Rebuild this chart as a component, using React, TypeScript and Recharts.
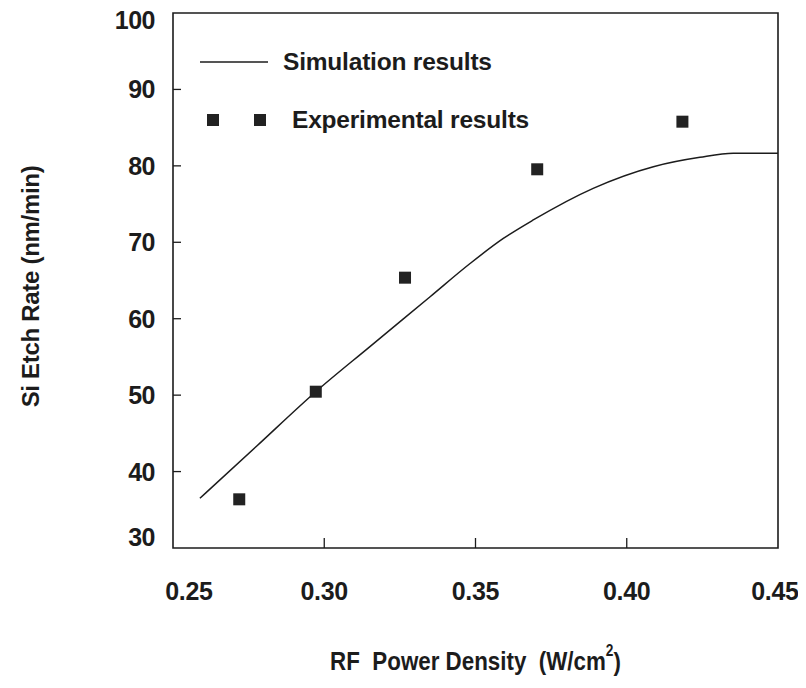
import {
  ComposedChart,
  Legend,
  Line,
  ReferenceArea,
  Scatter,
  XAxis,
  YAxis,
} from 'recharts';

// simulation curve
const simX = [0.2589, 0.2777, 0.2972, 0.3151, 0.335, 0.3482, 0.3592, 0.3691, 0.3889, 0.4088, 0.4242, 0.4352, 0.45];
const simY = [36.5, 43.35, 50.45, 56.35, 62.88, 67.22, 70.5, 72.92, 77.06, 79.89, 81.12, 81.64, 81.64];

// experimental points
const expX = [0.2719, 0.2972, 0.3267, 0.3704, 0.4184];
const expY = [36.37, 50.45, 65.37, 79.55, 85.78];

const xTicks = [0.25, 0.3, 0.35, 0.4, 0.45];
const xTickLabels = ['0.25', '0.30', '0.35', '0.40', '0.45'];
const yTicks = [30, 40, 50, 60, 70, 80, 90, 100];

const simData = simX.map((x, i) => ({ x, y: simY[i] }));
const expData = expX.map((x, i) => ({ x, y: expY[i] }));

const FONT = '"Liberation Sans", Arial, sans-serif';
const INK = '#1c1c1c';

function XTick({ x, y, index }: any) {
  const inner = index > 0 && index < xTicks.length - 1;
  const first = index === 0;
  const last = index === xTicks.length - 1;
  return (
    <g>
      {inner && <line x1={x} x2={x} y1={y - 43} y2={y - 53} stroke={INK} strokeWidth={1.3} />}
      <text
        x={first ? x + 16 : last ? x - 3 : x}
        y={y}
        textAnchor="middle"
        dominantBaseline="central"
        fontFamily={FONT}
        fontWeight="bold"
        fontSize={25}
        letterSpacing={-0.3}
        fill={INK}
      >
        {xTickLabels[index]}
      </text>
    </g>
  );
}

function YTick({ x, y, payload }: any) {
  const v = payload.value;
  const inner = v > 30 && v < 100;
  const dy = v === 100 ? 7 : v === 30 ? -11 : 0;
  return (
    <g>
      {inner && <line x1={x + 18} x2={x + 26} y1={y} y2={y} stroke={INK} strokeWidth={1.3} />}
      <text
        x={x}
        y={y + dy}
        textAnchor="end"
        dominantBaseline="central"
        fontFamily={FONT}
        fontWeight="bold"
        fontSize={25}
        letterSpacing={-0.5}
        fill={INK}
      >
        {v}
      </text>
    </g>
  );
}

function XTitle({ viewBox }: any) {
  const cx = viewBox.x + viewBox.width / 2;
  const cy = viewBox.y + 113;
  return (
    <g transform={`translate(${cx} ${cy}) scale(0.86 1)`}>
      <text
        x={0}
        y={0}
        textAnchor="middle"
        dominantBaseline="central"
        fontFamily={FONT}
        fontWeight="bold"
        fontSize={26}
        fill={INK}
        style={{ whiteSpace: 'pre' }}
      >
        {'RF  Power Density  (W/cm'}
        <tspan dy={-11} fontSize={16}>2</tspan>
        <tspan dy={11}>)</tspan>
      </text>
    </g>
  );
}

function YTitle({ viewBox }: any) {
  const cy = viewBox.y + viewBox.height / 2 + 6;
  return (
    <text
      x={22}
      y={cy}
      transform={`rotate(-90 22 ${cy})`}
      textAnchor="middle"
      dominantBaseline="central"
      fontFamily={FONT}
      fontWeight="bold"
      fontSize={24}
      letterSpacing={-0.3}
      fill={INK}
    >
      Si Etch Rate (nm/min)
    </text>
  );
}

function Square({ cx, cy }: any) {
  return <rect x={cx - 6} y={cy - 6} width={12} height={12} fill="#222" />;
}

function LegendBox() {
  const text = {
    fontFamily: FONT,
    fontWeight: 'bold' as const,
    fontSize: 24.5,
    letterSpacing: -0.2,
    color: INK,
    lineHeight: '24px',
    whiteSpace: 'nowrap' as const,
  };
  return (
    <div style={{ display: 'flex', flexDirection: 'column', gap: 34 }}>
      <div style={{ display: 'flex', alignItems: 'center' }}>
        <svg width={83} height={24}>
          <line x1={0} x2={68} y1={12} y2={12} stroke={INK} strokeWidth={1.4} />
        </svg>
        <span style={text}>Simulation results</span>
      </div>
      <div style={{ display: 'flex', alignItems: 'center' }}>
        <svg width={92} height={24}>
          <rect x={7} y={6} width={12} height={12} fill="#222" />
          <rect x={54} y={6} width={12} height={12} fill="#222" />
        </svg>
        <span style={text}>Experimental results</span>
      </div>
    </div>
  );
}

export default function App() {
  return (
    <ComposedChart
      width={798}
      height={672}
      margin={{ top: 5, right: 28, bottom: 0, left: 0 }}
    >
      <XAxis
        dataKey="x"
        type="number"
        domain={[0.25, 0.45]}
        ticks={xTicks}
        allowDataOverflow
        axisLine={false}
        tickLine={false}
        tickSize={0}
        tickMargin={43}
        height={132}
        tick={<XTick />}
        interval={0}
        label={<XTitle />}
      />
      <YAxis
        type="number"
        domain={[30, 100]}
        ticks={yTicks}
        allowDataOverflow
        axisLine={false}
        tickLine={false}
        tickSize={0}
        tickMargin={18}
        width={165}
        tick={<YTick />}
        interval={0}
        label={<YTitle />}
      />
      <ReferenceArea
        x1={0.25}
        x2={0.45}
        y1={30}
        y2={100}
        fill="none"
        stroke={INK}
        strokeWidth={1.6}
        fillOpacity={0}
      />
      <Legend
        layout="horizontal"
        verticalAlign="middle"
        align="center"
        content={<LegendBox />}
        wrapperStyle={{ top: 42, left: 192, width: 'auto', height: 'auto' }}
      />
      <Line
        data={simData}
        dataKey="y"
        type="monotone"
        stroke={INK}
        strokeWidth={1.5}
        dot={false}
        activeDot={false}
        isAnimationActive={false}
      />
      <Scatter
        data={expData}
        dataKey="y"
        shape={<Square />}
        isAnimationActive={false}
      />
    </ComposedChart>
  );
}
